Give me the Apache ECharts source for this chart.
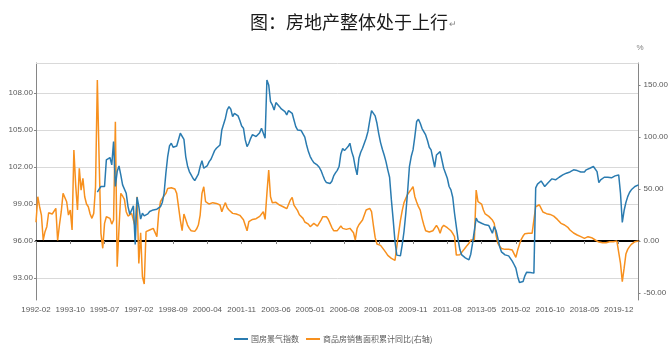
<!DOCTYPE html>
<html><head><meta charset="utf-8">
<script src="https://cdn.jsdelivr.net/npm/echarts@6/dist/echarts.min.js"></script>
<style>html,body{margin:0;padding:0;background:#fff}#c{width:671px;height:353px}</style>
</head><body><div id="c"></div>
<script>
// ---- data ----
const startMonth = '1992-02';
const endMonth = '2020-11';
const skippedMonths = ['1993-01','1994-01','1995-01','2009-01','2010-01','2011-01','2012-01','2013-01','2014-01','2015-01','2016-01'];
const leftTicks = [93, 96, 99, 102, 105, 108];
const rightTicks = [-50, 0, 50, 100, 150];
const seriesNames = ['国房景气指数', '商品房销售面积累计同比(右轴)'];

// 国房景气指数 (left axis)
const climateIndex = [
null,null,null,null,null,null,null,null,null,null,null,null,null,null,null,null,null,null,null,null,
null,null,null,null,null,null,null,null,null,null,null,null,null,null,
99.95,100.19,100.41,100.32,100.41,102.57,102.70,102.76,102.16,104.05,
100.41,101.62,102.08,101.35,100.54,100.41,99.86,98.78,98.16,98.24,
98.84,95.70,99.54,98.78,97.76,98.24,98.03,98.16,98.19,98.38,
98.46,98.51,98.57,98.57,98.62,98.78,99.11,99.86,101.49,102.84,
103.70,103.92,103.59,103.65,103.70,103.65,104.73,104.86,104.24,102.84,
102.08,101.62,101.35,101.08,100.89,101.00,101.41,102.03,102.51,101.89,
101.76,102.11,102.43,102.62,102.97,103.32,103.51,103.51,103.78,105.00,
105.14,105.95,106.62,106.89,106.68,106.08,106.35,106.41,106.14,105.76,
105.32,105.14,104.19,103.65,103.92,104.32,104.62,104.59,104.46,104.46,
104.78,105.14,105.00,104.32,109.05,108.65,107.30,107.03,106.62,107.22,
107.16,106.89,106.70,106.62,106.49,106.22,106.57,106.62,106.35,105.81,
105.27,105.00,104.86,104.95,104.86,104.41,103.78,103.24,102.84,102.57,
102.35,102.24,102.14,101.97,101.70,101.32,100.95,100.73,100.62,100.65,
100.84,101.27,101.51,101.72,102.03,103.05,103.49,103.32,103.38,103.65,
103.92,103.24,102.78,101.97,101.35,102.70,103.19,103.51,103.92,104.32,
104.86,105.76,106.57,106.49,106.14,105.54,104.68,103.97,103.43,102.97,
102.43,101.76,101.16,99.32,97.70,95.95,94.84,94.78,94.78,95.68,
96.76,98.24,100.00,102.03,102.84,103.38,104.46,105.68,105.86,105.54,
105.11,105.00,104.59,104.14,103.59,103.38,103.24,101.97,102.97,103.11,
103.24,103.11,101.89,101.49,101.08,100.41,100.14,99.54,98.24,97.16,
96.08,95.27,94.86,94.78,94.62,94.68,94.46,94.92,95.81,95.95,
97.84,97.57,97.43,97.43,97.30,97.30,97.38,97.24,97.11,96.62,
97.16,96.84,96.22,95.54,95.11,95.00,94.86,94.84,94.78,94.68,
94.35,94.08,93.78,93.11,92.62,92.51,92.70,93.16,93.46,93.51,
93.43,93.38,93.38,100.30,100.60,100.65,100.86,100.78,100.41,100.54,
100.73,100.81,101.03,101.00,100.95,101.11,101.16,101.16,101.35,101.46,
101.49,101.54,101.59,101.70,101.76,101.78,101.70,101.68,101.59,101.49,
101.59,101.76,101.81,101.89,102.03,102.03,102.03,101.62,100.73,100.95,
101.08,101.16,101.08,101.16,101.16,101.11,101.19,101.27,101.35,101.35,
99.86,97.49,98.46,99.11,99.59,99.92,100.14,100.30,100.41,100.51,
100.54
];

// 商品房销售面积累计同比 % (right axis)
const salesAreaYoY = [
18.0,42.6,33.0,25.0,1.0,9.0,13.8,27.2,26.6,26.0,
26.0,31.4,0.5,15.4,28.2,45.8,44.2,37.8,25.0,29.8,
10.6,87.5,53.8,29.8,69.9,49.0,60.3,42.6,35.6,33.0,
26.0,21.8,26.6,52.2,154.8,77.9,7.4,-7.0,17.0,23.4,
22.8,21.8,16.3,20.2,114.7,-24.7,11.5,45.8,43.3,40.0,
28.2,24.0,24.4,26.6,28.2,13.8,42.6,-21.5,8.0,-34.3,
-41.3,9.0,10.6,10.6,12.2,12.2,12.2,4.2,26.6,37.8,
41.0,42.0,45.8,50.6,51.6,51.3,51.6,50.0,45.8,33.0,
20.2,9.9,26.0,20.8,15.4,12.2,9.9,8.0,9.3,11.5,
15.4,25.0,45.8,52.2,37.8,36.2,35.6,36.9,36.9,38.8,
36.2,34.6,34.6,28.2,33.0,36.9,32.0,29.8,28.2,26.6,
26.0,26.0,25.6,24.7,22.8,20.5,18.9,9.9,18.6,19.9,
20.8,20.8,21.5,22.8,23.7,25.3,28.2,20.8,45.8,68.3,
42.6,36.9,36.9,37.2,35.6,34.6,34.3,33.0,32.0,31.1,
29.8,39.4,42.0,34.6,33.0,29.2,25.3,23.4,21.8,18.3,
17.0,16.3,13.8,14.4,17.0,17.0,14.4,13.8,20.2,23.4,
24.0,23.4,21.0,17.0,13.0,10.0,9.0,10.0,12.2,14.4,
12.2,11.9,11.2,10.6,12.2,12.2,8.0,1.0,12.2,15.7,
17.0,20.2,25.0,29.8,31.4,31.4,28.2,15.4,3.5,-2.9,
-4.8,-4.2,-6.1,-8.7,-11.2,-13.8,-15.4,-16.7,-18.3,-18.6,
-5.4,7.4,19.6,29.2,36.9,41.0,44.9,47.4,49.7,52.2,
42.6,37.5,33.0,29.8,21.8,15.4,9.9,8.0,8.7,9.0,
9.9,10.6,15.1,12.2,7.4,13.1,15.1,14.1,12.8,11.2,
9.9,7.4,4.2,-13.5,-13.5,-13.1,-11.9,-8.7,-6.4,-4.2,
-2.2,1.0,2.2,1.0,49.0,37.8,36.9,35.6,29.8,26.0,
24.4,23.7,22.1,20.2,17.0,5.8,-2.2,-4.8,-7.1,-8.0,
-8.0,-8.0,-8.0,-8.0,-8.7,-10.3,-15.7,-8.7,-3.2,1.6,
4.8,7.1,7.4,7.4,7.4,7.4,7.4,33.0,34.9,34.9,
31.4,27.9,26.3,26.3,26.3,25.6,24.0,24.0,23.4,20.8,
20.2,17.0,15.4,15.4,14.1,12.8,10.6,8.7,7.7,6.7,
5.8,4.8,4.2,2.6,2.6,3.8,4.2,4.2,3.2,1.6,
1.0,0.3,-1.0,-2.9,-1.6,-0.6,-1.6,-0.6,-0.6,-0.3,
-0.6,-0.6,0.0,-0.6,-21.5,-39.1,-26.3,-12.5,-8.0,-5.4,
-3.2,-1.6,-0.6,0.0,0.0
];

// ---- build month categories ----
function buildMonths() {
  const out = [];
  let [y, m] = startMonth.split('-').map(Number);
  const [ey, em] = endMonth.split('-').map(Number);
  while (y < ey || (y === ey && m <= em)) {
    const s = y + '-' + String(m).padStart(2, '0');
    if (skippedMonths.indexOf(s) < 0) out.push(s);
    m++; if (m > 12) { m = 1; y++; }
  }
  return out;
}
const categories = buildMonths();

const FONT = "'Liberation Sans','Noto Sans CJK SC',sans-serif";
const LEFT_MIN = 91.2, LEFT_MAX = 110.43;
const RIGHT_MIN = -56.7, RIGHT_MAX = 171.2;

const chart = echarts.init(document.getElementById('c'), null, {renderer: 'canvas'});
chart.setOption({
  animation: false,
  backgroundColor: '#fff',
  textStyle: {fontFamily: FONT},
  title: {
    text: '{a|图：房地产整体处于上行}{b|↵}',
    left: 245, top: 8,
    textStyle: {
      fontWeight: 'normal',
      rich: {
        a: {fontSize: 18, fontWeight: 'normal', color: '#1a1a1a', fontFamily: "'Noto Sans CJK SC',sans-serif"},
        b: {fontSize: 9, fontWeight: 'normal', color: '#888', padding: [6, 0, 0, 1]}
      }
    }
  },
  legend: {
    left: 229, top: 330,
    itemWidth: 14, itemHeight: 2, itemGap: 7,
    icon: 'rect',
    textStyle: {fontSize: 8, color: '#595959', fontFamily: "'Noto Sans CJK SC',sans-serif", padding: [0, 0, 0, -2]},
    data: seriesNames
  },
  grid: {left: 36, right: 29, top: 63, bottom: 53, containLabel: false},
  xAxis: [
    {
      type: 'category', data: categories, boundaryGap: false, position: 'bottom',
      axisLine: {show: false}, axisTick: {show: false}, splitLine: {show: false},
      axisLabel: {interval: 18, fontSize: 8, color: '#595959', margin: 6, fontFamily: FONT}
    },
    {
      type: 'category', data: categories, boundaryGap: false, position: 'top',
      axisLine: {show: true, onZero: true, onZeroAxisIndex: 1, lineStyle: {color: '#000', width: 2}},
      axisTick: {show: true, interval: 18, inside: true, length: 3, lineStyle: {color: '#7f7f7f'}},
      axisLabel: {show: false}, splitLine: {show: false}
    }
  ],
  yAxis: [
    {
      type: 'value', min: LEFT_MIN, max: LEFT_MAX, position: 'left',
      axisLine: {show: true, lineStyle: {color: '#868686', width: 1}},
      axisTick: {show: true, length: 2, lineStyle: {color: '#868686'}, customValues: leftTicks},
      axisLabel: {fontSize: 8, color: '#595959', margin: 3, customValues: leftTicks,
                  formatter: v => v.toFixed(2), fontFamily: FONT},
      splitLine: {show: true, lineStyle: {color: '#d9d9d9', width: 1}}
    },
    {
      type: 'value', min: RIGHT_MIN, max: RIGHT_MAX, position: 'right',
      name: '%', nameLocation: 'end', nameGap: 11,
      nameTextStyle: {fontSize: 8, color: '#7f7f7f', align: 'left', padding: [0, 0, 0, -2]},
      axisLine: {show: true, lineStyle: {color: '#868686', width: 1}},
      axisTick: {show: true, length: 2, lineStyle: {color: '#868686'}, customValues: rightTicks},
      axisLabel: {fontSize: 8, color: '#595959', margin: 5, customValues: rightTicks,
                  formatter: v => v.toFixed(2), fontFamily: FONT},
      splitLine: {show: false}
    }
  ],
  series: [
    {
      name: seriesNames[0], type: 'line', xAxisIndex: 0, yAxisIndex: 0,
      data: climateIndex, showSymbol: false, symbol: 'none',
      lineStyle: {color: '#2a7bb0', width: 1.5}, itemStyle: {color: '#2a7bb0'},
      z: 3,
      markLine: {
        silent: true, symbol: 'none', label: {show: false},
        lineStyle: {color: '#d9d9d9', type: 'solid', width: 1},
        data: [{yAxis: LEFT_MAX}]
      }
    },
    {
      name: seriesNames[1], type: 'line', xAxisIndex: 0, yAxisIndex: 1,
      data: salesAreaYoY, showSymbol: false, symbol: 'none',
      lineStyle: {color: '#f7901e', width: 1.5}, itemStyle: {color: '#f7901e'},
      z: 2
    }
  ]
});
</script>
</body></html>
